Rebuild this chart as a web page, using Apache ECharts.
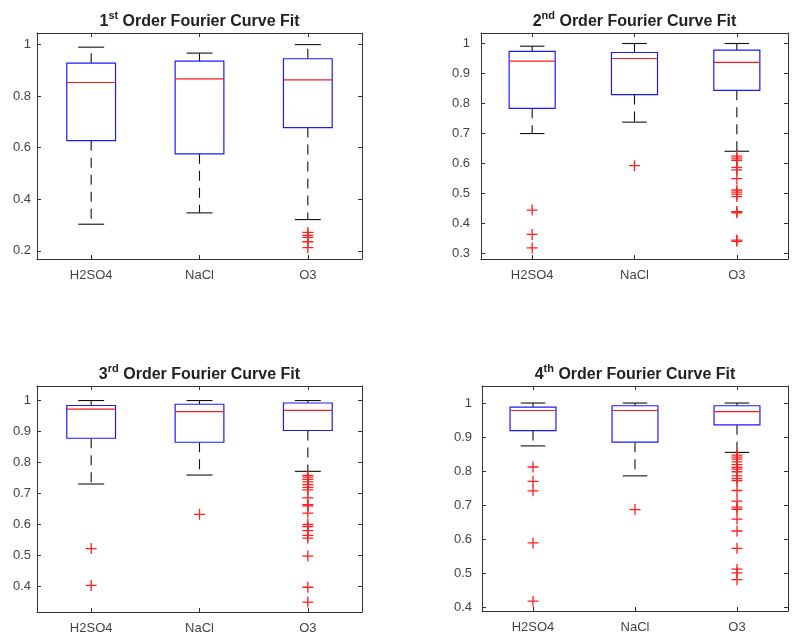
<!DOCTYPE html>
<html>
<head>
<meta charset="utf-8">
<script src="https://cdn.jsdelivr.net/npm/echarts@6.0.0/dist/echarts.min.js"></script>
<style>
  html, body { margin: 0; padding: 0; background: #fff; }
  #chart { width: 798px; height: 643px; }
</style>
</head>
<body>
<div id="chart"></div>
<script>
// categories on every x axis
const categories = ["H2SO4", "NaCl", "O3"];

// ordinal of each panel title: [number, suffix]
const titleOrders = [["1", "st"], ["2", "nd"], ["3", "rd"], ["4", "th"]];

// box stats per category: [lower whisker, Q1, median, Q3, upper whisker]
const fit1Stats = [
  [0.303, 0.627, 0.853, 0.928, 0.990],
  [0.347, 0.576, 0.867, 0.936, 0.967],
  [0.321, 0.678, 0.863, 0.945, 1.000],
];
const fit2Stats = [
  [0.700, 0.784, 0.941, 0.974, 0.991],
  [0.738, 0.830, 0.950, 0.970, 1.000],
  [0.641, 0.844, 0.937, 0.978, 1.000],
];
const fit3Stats = [
  [0.730, 0.878, 0.972, 0.984, 1.000],
  [0.759, 0.865, 0.964, 0.988, 1.000],
  [0.771, 0.903, 0.968, 0.992, 1.000],
];
const fit4Stats = [
  [0.874, 0.919, 0.978, 0.988, 1.000],
  [0.786, 0.885, 0.978, 0.992, 1.000],
  [0.855, 0.936, 0.975, 0.992, 1.000],
];

// outliers per category
const fit1Outliers = [[], [], [0.271, 0.260, 0.252, 0.235, 0.212]];
const fit2Outliers = [
  [0.445, 0.364, 0.319],
  [0.593],
  [0.625, 0.618, 0.611, 0.587, 0.579, 0.550, 0.512, 0.505, 0.498, 0.490, 0.440, 0.436, 0.345, 0.341],
];
const fit3Outliers = [
  [0.521, 0.402],
  [0.632],
  [0.758, 0.752, 0.745, 0.737, 0.728, 0.719, 0.711, 0.685, 0.663, 0.659, 0.636,
   0.599, 0.592, 0.579, 0.564, 0.555, 0.497, 0.396, 0.348],
];
const fit4Outliers = [
  [0.812, 0.770, 0.742, 0.589, 0.418],
  [0.687],
  [0.847, 0.841, 0.835, 0.827, 0.819, 0.811, 0.806, 0.798, 0.786, 0.778, 0.772,
   0.743, 0.712, 0.694, 0.688, 0.659, 0.624, 0.573, 0.512, 0.501, 0.481],
];

// y axis extents and tick labels
const yMins = [0.168, 0.282, 0.316, 0.389];
const yMaxs = [1.045, 1.035, 1.047, 1.05];
const fit1Ticks = [0.2, 0.4, 0.6, 0.8, 1];
const fit2Ticks = [0.3, 0.4, 0.5, 0.6, 0.7, 0.8, 0.9, 1];
const fit3Ticks = [0.4, 0.5, 0.6, 0.7, 0.8, 0.9, 1];
const fit4Ticks = [0.4, 0.5, 0.6, 0.7, 0.8, 0.9, 1];

const allStats = [fit1Stats, fit2Stats, fit3Stats, fit4Stats];
const allOutliers = [fit1Outliers, fit2Outliers, fit3Outliers, fit4Outliers];
const allTicks = [fit1Ticks, fit2Ticks, fit3Ticks, fit4Ticks];

// panel boxes in pixels
const panels = [
  { left: 37, top: 33, width: 325, height: 226, labelMargin: 6, titleY: 20 },
  { left: 481, top: 33, width: 307, height: 226, labelMargin: 11, titleY: 20 },
  { left: 37, top: 386, width: 325, height: 226, labelMargin: 6, titleY: 373 },
  { left: 482, top: 386, width: 306, height: 225, labelMargin: 10, titleY: 373 },
];

const FONT = "'Liberation Sans', Arial, sans-serif";
const AXIS = "#333";
const LABEL = "#444";

var myChart = echarts.init(document.getElementById("chart"));

function renderBox(params, api) {
  var k = api.value(0);
  var band = api.size([1, 0])[0];
  var x = api.coord([k, 0])[0];
  var y = (v) => api.coord([k, v])[1];
  var lo = api.value(1), q1 = api.value(2), med = api.value(3), q3 = api.value(4), hi = api.value(5);
  var hw = band * 0.225; // half box width
  var cw = band * 0.12; // half cap width
  var dash = { stroke: "#111", lineWidth: 1.1, lineDash: [10, 7], fill: null };
  var solid = { stroke: "#111", lineWidth: 1.1, fill: null };
  return {
    type: "group",
    children: [
      { type: "line", shape: { x1: x, y1: y(q3), x2: x, y2: y(hi) }, style: dash },
      { type: "line", shape: { x1: x, y1: y(q1), x2: x, y2: y(lo) }, style: dash },
      { type: "line", shape: { x1: x - cw, y1: y(hi), x2: x + cw, y2: y(hi) }, style: solid },
      { type: "line", shape: { x1: x - cw, y1: y(lo), x2: x + cw, y2: y(lo) }, style: solid },
      {
        type: "rect",
        shape: { x: x - hw, y: y(q3), width: 2 * hw, height: y(q1) - y(q3) },
        style: { fill: "#fff", stroke: "#1a1aff", lineWidth: 1.2 },
      },
      {
        type: "line",
        shape: { x1: x - hw, y1: y(med), x2: x + hw, y2: y(med) },
        style: { stroke: "#ff1a1a", lineWidth: 1.2 },
      },
    ],
  };
}

var grids = [], xAxes = [], yAxes = [], series = [], graphics = [];

panels.forEach((p, i) => {
  grids.push({ left: p.left, top: p.top, width: p.width, height: p.height });

  // bottom and top category axes (top one just for the frame and ticks)
  ["bottom", "top"].forEach((pos) => {
    xAxes.push({
      gridIndex: i,
      type: "category",
      position: pos,
      data: categories,
      axisLine: { show: true, onZero: false, lineStyle: { color: AXIS, width: 1 } },
      axisTick: { show: true, inside: true, alignWithLabel: true, length: 4, lineStyle: { color: AXIS } },
      axisLabel: {
        show: pos === "bottom",
        margin: 10,
        fontSize: 13,
        fontFamily: FONT,
        color: LABEL,
      },
      splitLine: { show: false },
    });
  });

  // left and right value axes
  ["left", "right"].forEach((pos) => {
    yAxes.push({
      gridIndex: i,
      type: "value",
      position: pos,
      min: yMins[i],
      max: yMaxs[i],
      axisLine: { show: true, onZero: false, lineStyle: { color: AXIS, width: 1 } },
      axisTick: {
        show: true,
        inside: true,
        length: 4,
        customValues: allTicks[i],
        lineStyle: { color: AXIS },
      },
      axisLabel: {
        show: pos === "left",
        customValues: allTicks[i],
        margin: p.labelMargin,
        fontSize: 13,
        fontFamily: FONT,
        color: LABEL,
        formatter: (v) => String(+v.toFixed(2)),
      },
      splitLine: { show: false },
    });
  });

  series.push({
    type: "custom",
    xAxisIndex: 2 * i,
    yAxisIndex: 2 * i,
    data: allStats[i].map((s, k) => [k].concat(s)),
    encode: { x: 0, y: [1, 2, 3, 4, 5] },
    renderItem: renderBox,
    silent: true,
    z: 2,
  });

  var pts = [];
  allOutliers[i].forEach((vals, k) => vals.forEach((v) => pts.push([k, v])));
  series.push({
    type: "scatter",
    xAxisIndex: 2 * i,
    yAxisIndex: 2 * i,
    data: pts,
    symbol: "path://M0,4.4H10V5.6H0Z M4.4,0H5.6V10H4.4Z",
    symbolSize: 11,
    itemStyle: { color: "#ff2020", opacity: 1 },
    silent: true,
    z: 3,
  });

  var ord = titleOrders[i];
  graphics.push({
    type: "text",
    x: p.left + p.width / 2,
    y: p.titleY,
    style: {
      text: "{n|" + ord[0] + "}{s|" + ord[1] + "}{n| Order Fourier Curve Fit}",
      align: "center",
      verticalAlign: "middle",
      fill: "#222",
      rich: {
        n: { fontSize: 16, fontWeight: "bold", fontFamily: FONT, fill: "#222", lineHeight: 20, verticalAlign: "bottom" },
        s: { fontSize: 11, fontWeight: "bold", fontFamily: FONT, fill: "#222", lineHeight: 11, verticalAlign: "top" },
      },
    },
  });
});

var option = {
  backgroundColor: "#fff",
  animation: false,
  grid: grids,
  xAxis: xAxes,
  yAxis: yAxes,
  series: series,
  graphic: graphics,
};

myChart.setOption(option);
</script>
</body>
</html>
